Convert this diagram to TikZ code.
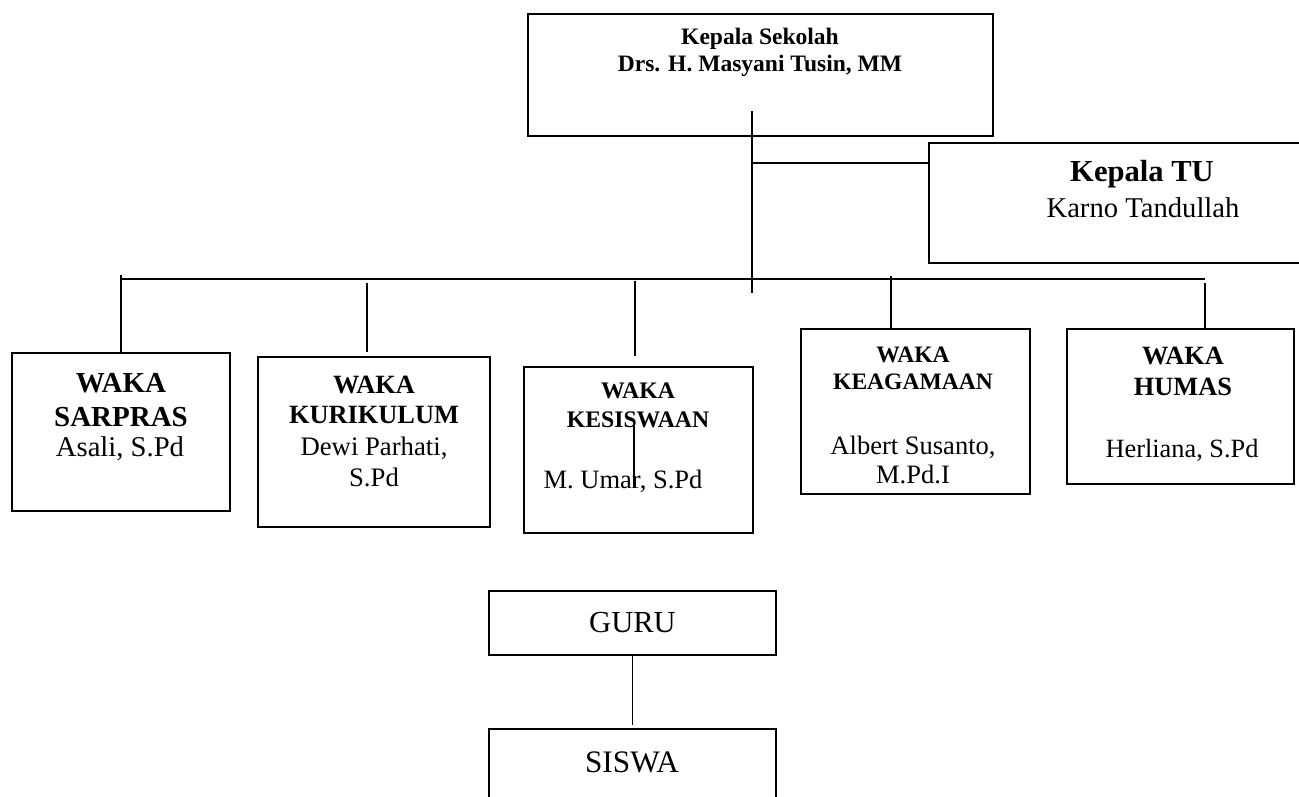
\documentclass[tikz,border=0pt]{standalone}
\usepackage{fontspec}
\setmainfont{Liberation Serif}
\usetikzlibrary{positioning}

\newcommand{\fs}[2]{\fontsize{#1}{#2}\selectfont}

\tikzset{
  wbox/.style 2 args={draw, line width=0.9pt, rectangle, inner sep=0pt,
    minimum width=#1*0.02cm, minimum height=#2*0.02cm},
  txt/.style={inner sep=0pt, align=center},
  link/.style={line width=0.9pt}
}

\begin{document}
\begin{tikzpicture}[x=0.02cm, y=-0.02cm]
\useasboundingbox (0,0) rectangle (1299,797);
\fill[white] (0,0) rectangle (1299,797);
\clip (0,0) rectangle (1299,797);

% kepala sekolah dan TU
\node [wbox={465}{122}] (kepsek) at (760.5,75) {};
\node [txt, font={\fs{13.4}{15.4}\bfseries}] (kepsekT) at (760,52.5) {Kepala Sekolah\\Drs. H. Masyani Tusin, MM};
\node [wbox={428}{120}] (tu) at (1143,203) {};
\node [txt, font={\fs{17.4}{20}\bfseries}] (tuHead) at (1142,174) {Kepala TU};
\node [txt, font={\fs{16.3}{19}}] (tuName) at (1143,208) {Karno Tandullah};

% para waka
\node [wbox={218}{158}] (sarpras) at (121,432) {};
\node [txt, font={\fs{16.5}{19.3}\bfseries}] (sarprasHead) at (121,400) {WAKA\\SARPRAS};
\node [txt, font={\fs{16.3}{19}}] (sarprasName) at (120,449) {Asali, S.Pd};

\node [wbox={232}{170}] (kurikulum) at (374,442) {};
\node [txt, font={\fs{15}{17.2}\bfseries}] (kurikulumHead) at (374,400) {WAKA\\KURIKULUM};
\node [txt, font={\fs{15.2}{17.6}}] (kurikulumName) at (374,462) {Dewi Parhati,\\S.Pd};

\node [wbox={229}{166}] (kesiswaan) at (638.5,450) {};
\node [txt, font={\fs{13.5}{16.5}\bfseries}] (kesiswaanHead) at (638,405.5) {WAKA\\KESISWAAN};
\node [txt, font={\fs{15.1}{17.5}}] (kesiswaanName) at (623,481) {M. Umar, S.Pd};

\node [wbox={229}{165}] (keagamaan) at (915.5,411.5) {};
\node [txt, font={\fs{13.4}{15.4}\bfseries}] (keagamaanHead) at (913,368.5) {WAKA\\KEAGAMAAN};
\node [txt, font={\fs{15.1}{16}}] (keagamaanName) at (913,460) {Albert Susanto,\\M.Pd.I};

\node [wbox={227}{155}] (humas) at (1180.5,406.5) {};
\node [txt, font={\fs{15}{17.6}\bfseries}] (humasHead) at (1183,371.5) {WAKA\\HUMAS};
\node [txt, font={\fs{15}{17.5}}] (humasName) at (1182,450) {Herliana, S.Pd};

% guru dan siswa
\node [wbox={287}{64}, font={\fs{17.4}{20}}] (guru) at (632.5,623) {GURU};
\node [wbox={287}{91}] (siswa) at (632.5,774.5) {};
\node [txt, font={\fs{17.8}{20}}] (siswaT) at (632,762) {SISWA};

% garis
\coordinate (top) at (752,111);
\coordinate (mid) at (752,293);
\coordinate (tuJ) at (752,163);
\coordinate (busL) at (121,279);
\coordinate (busR) at (1205,279);
\coordinate (dKur) at (367,283);
\coordinate (dKes) at (635,281);
\coordinate (dKea) at (891,276);
\coordinate (dHum) at (1205,283);
\coordinate (stray) at (634,424);

\draw [link] (top) -- (mid);
\draw [link] (tuJ) -- (tuJ -| tu.west);
\draw [link] (busL) -- (busR);
\draw [link] ([yshift=0.08cm]busL) -- (sarpras.north);
\draw [link] (dKur) -- ++(0,69);
\draw [link] (dKes) -- ++(0,75);
\draw [link] (dKea) -- (dKea |- keagamaan.north);
\draw [link] (dHum) -- (dHum |- humas.north);
\draw [link] (stray) -- ++(0,64);
\draw [link] (guru.south) -- ([yshift=0.06cm]siswa.north);
\end{tikzpicture}
\end{document}
